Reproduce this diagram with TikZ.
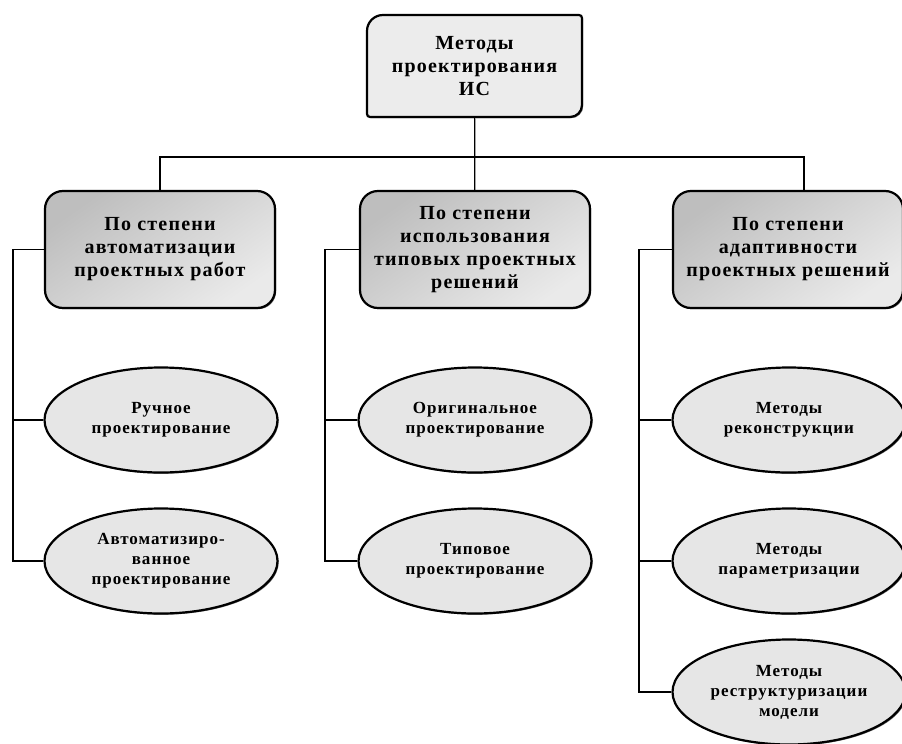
\documentclass[tikz,border=0pt]{standalone}
\usepackage{fontspec}
\setmainfont{Liberation Serif}
\newfontfamily\spacedfont[LetterSpace=6]{Liberation Serif}
\usetikzlibrary{shapes.geometric,shadows}
\definecolor{topgray}{RGB}{236,236,236}
\definecolor{darkgrad}{RGB}{190,190,190}
\definecolor{lightgrad}{RGB}{234,234,234}
\definecolor{ovalgray}{RGB}{230,230,230}

\begin{document}
\begin{tikzpicture}[x=1pt,y=-1pt,line width=1.2pt,
  top box/.style={draw=black,line width=2.2pt,fill=topgray,
    drop shadow={shadow xshift=1.2pt,shadow yshift=-1.2pt,fill=black,opacity=0.6}},
  top node/.style={minimum width=216pt,minimum height=102pt,align=center,
    font=\spacedfont\bfseries\fontsize{20}{23}\selectfont},
  group node/.style={rectangle,rounded corners=18pt,draw=black,line width=2.2pt,
    top color=darkgrad,bottom color=lightgrad,shading angle=35,
    drop shadow={shadow xshift=1.2pt,shadow yshift=-1.2pt,fill=black,opacity=0.6},
    minimum width=230pt,minimum height=117pt,align=center,
    font=\spacedfont\bfseries\fontsize{20}{23}\selectfont},
  method node/.style={ellipse,draw=black,line width=2.2pt,fill=ovalgray,
    drop shadow={shadow xshift=1.2pt,shadow yshift=-1.2pt,fill=black,opacity=0.6},
    minimum width=233pt,minimum height=105pt,inner sep=0pt,align=center,
    font=\spacedfont\bfseries\fontsize{17}{20}\selectfont}]

  \useasboundingbox (0,0) rectangle (902,744);

  \draw[top box] (367,117) [rounded corners=16pt] -- (367,15) [rounded corners=3pt] -- (582,15)
    [rounded corners=12pt] -- (582,117) [rounded corners=3pt] -- cycle;
  \node[top node] (1) at (474.5,66) {Методы\\проектирования\\ИС};

  \node[group node] (2) at (160,249.5) {По степени\\автоматизации\\проектных работ};
  \node[group node] (3) at (475,249.5) {По степени\\использования\\типовых проектных\\решений};
  \node[group node] (4) at (788,249.5) {По степени\\адаптивности\\проектных решений};

  \node[method node] (5) at (161,420) {Ручное\\проектирование};
  \node[method node] (6) at (161,561) {Автоматизиро-\\ванное\\проектирование};
  \node[method node] (7) at (475,420) {Оригинальное\\проектирование};
  \node[method node] (8) at (475,561) {Типовое\\проектирование};
  \node[method node] (9) at (789,420) {Методы\\реконструкции};
  \node[method node] (10) at (789,561) {Методы\\параметризации};
  \node[method node] (11) at (789,692) {Методы\\реструктуризации\\модели};

  \coordinate (bus) at (475,157);
  \draw (1) -- (3);
  \draw (2.north) |- (bus) -| ([xshift=16pt]4.north);

  \draw (2.west) -- ++(-31,0) coordinate (a) |- (5.west) (a) |- (6.west);
  \draw (3.west) -- ++(-34,0) coordinate (b) |- (7.west) (b) |- (8.west);
  \draw (4.west) -- ++(-33,0) coordinate (c) |- (9.west) (c) |- (10.west) (c) |- (11.west);

\end{tikzpicture}
\end{document}
